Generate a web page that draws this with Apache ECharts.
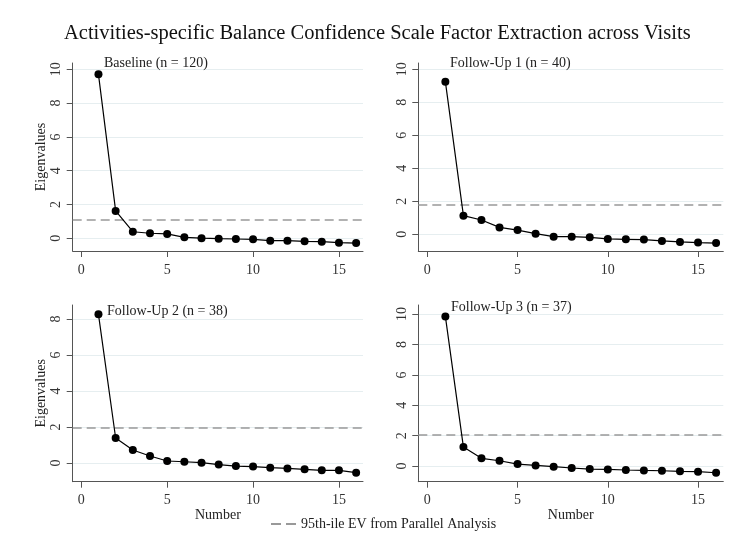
<!DOCTYPE html>
<html><head><meta charset="utf-8">
<script src="https://cdn.jsdelivr.net/npm/echarts@6/dist/echarts.min.js"></script>
<style>html,body{margin:0;padding:0;background:#fff}#c{width:742px;height:547px}</style>
</head><body><div id="c"></div>
<script>
const factorNumbers = [1,2,3,4,5,6,7,8,9,10,11,12,13,14,15,16];
const baselineEV = [9.70,1.62,0.39,0.30,0.26,0.06,0.01,-0.02,-0.04,-0.06,-0.14,-0.14,-0.18,-0.20,-0.26,-0.28];
const followUp1EV = [9.25,1.13,0.87,0.42,0.26,0.04,-0.14,-0.14,-0.18,-0.28,-0.30,-0.32,-0.40,-0.46,-0.50,-0.53];
const followUp2EV = [8.26,1.39,0.72,0.39,0.11,0.07,0.02,-0.09,-0.17,-0.20,-0.26,-0.30,-0.35,-0.41,-0.41,-0.54];
const followUp3EV = [9.85,1.25,0.51,0.35,0.13,0.04,-0.04,-0.13,-0.20,-0.22,-0.26,-0.29,-0.31,-0.35,-0.37,-0.44];
const parallelAnalysis95 = [1.07,1.82,1.98,2.04];
const panelLabels = ['Baseline (n = 120)','Follow-Up 1 (n = 40)','Follow-Up 2 (n = 38)','Follow-Up 3 (n = 37)'];
const xTicks = [0,5,10,15];
const yTicksA = [0,2,4,6,8,10];
const yTicksB = [0,2,4,6,8];
const paName = '95th-ile EV from Parallel Analysis';

const FONT = '"Liberation Serif","Times New Roman",serif';
const panels = [
  {grid:{left:72.7,top:63,width:290.3,height:188}, ymin:-0.75, ymax:10.37, yt:yTicksA, data:baselineEV, label:{left:104,top:56}, yName:true, xName:false},
  {grid:{left:418.3,top:63,width:305,height:188}, ymin:-1.01, ymax:10.38, yt:yTicksA, data:followUp1EV, label:{left:450,top:56}, yName:false, xName:false},
  {grid:{left:72.7,top:305,width:290.3,height:176.7}, ymin:-1.04, ymax:8.78, yt:yTicksB, data:followUp2EV, label:{left:107,top:304}, yName:true, xName:true},
  {grid:{left:418.3,top:305,width:305,height:176.7}, ymin:-1.03, ymax:10.6, yt:yTicksA, data:followUp3EV, label:{left:451,top:300}, yName:false, xName:true}
];

const axisColor = '#555';
const option = {
  animation:false,
  backgroundColor:'#fff',
  title:[{text:'Activities-specific Balance Confidence Scale Factor Extraction across Visits', left:64, top:23, padding:0,
    textStyle:{fontFamily:FONT,fontSize:20.5,fontWeight:'normal',color:'#111'}}].concat(
    panels.map((p,i)=>({text:panelLabels[i], left:p.label.left, top:p.label.top, padding:0,
      textStyle:{fontFamily:FONT,fontSize:14,fontWeight:'normal',color:'#222'}}))),
  legend:{data:[{name:paName, icon:'path://M0,0H10V2H0Z M15,0H25V2H15Z', itemStyle:{color:'#999'}}],
    left:266, top:512, itemWidth:25, itemHeight:2, itemGap:4,
    textStyle:{fontFamily:FONT,fontSize:14,color:'#222'}},
  grid: panels.map(p=>Object.assign({containLabel:false}, p.grid)),
  xAxis: panels.map((p,i)=>({type:'value', gridIndex:i, min:-0.5, max:16.4,
    name: p.xName ? 'Number' : '', nameLocation:'middle', nameGap:24,
    nameTextStyle:{fontFamily:FONT,fontSize:14,color:'#222'},
    axisLine:{show:true,onZero:false,lineStyle:{color:axisColor,width:1}},
    axisTick:{show:true,length:6,customValues:xTicks,lineStyle:{color:axisColor}},
    axisLabel:{customValues:xTicks,margin:12,fontFamily:FONT,fontSize:14,color:'#333'},
    splitLine:{show:false}})),
  yAxis: panels.map((p,i)=>({type:'value', gridIndex:i, min:p.ymin, max:p.ymax,
    name: p.yName ? 'Eigenvalues' : '', nameLocation:'middle', nameGap:24, nameRotate:90,
    nameTextStyle:{fontFamily:FONT,fontSize:14,color:'#222'},
    axisLine:{show:true,onZero:false,lineStyle:{color:axisColor,width:1}},
    axisTick:{show:true,length:6,customValues:p.yt,lineStyle:{color:axisColor}},
    axisLabel:{customValues:p.yt,rotate:90,margin:9,fontFamily:FONT,fontSize:14,color:'#333'},
    splitLine:{show:true,lineStyle:{color:'#e6eef0',width:1}}})),
  series: []
};
panels.forEach((p,i)=>{
  option.series.push({type:'line', name:paName, xAxisIndex:i, yAxisIndex:i, data:[], symbol:'none',
    lineStyle:{color:'#999',width:1.5,type:[9,5]}, itemStyle:{color:'#999'},
    markLine:{silent:true, symbol:['none','none'], label:{show:false},
      lineStyle:{color:'#999',width:1.5,type:[9,5]}, data:[{yAxis:parallelAnalysis95[i]}]}});
  option.series.push({type:'line', name:panelLabels[i], xAxisIndex:i, yAxisIndex:i,
    data: factorNumbers.map((n,k)=>[n,p.data[k]]), symbol:'circle', symbolSize:8,
    itemStyle:{color:'#000'}, lineStyle:{color:'#000',width:1.2}, z:5});
});
const chart = echarts.init(document.getElementById('c'), null, {renderer:'canvas'});
chart.setOption(option);
</script></body></html>
